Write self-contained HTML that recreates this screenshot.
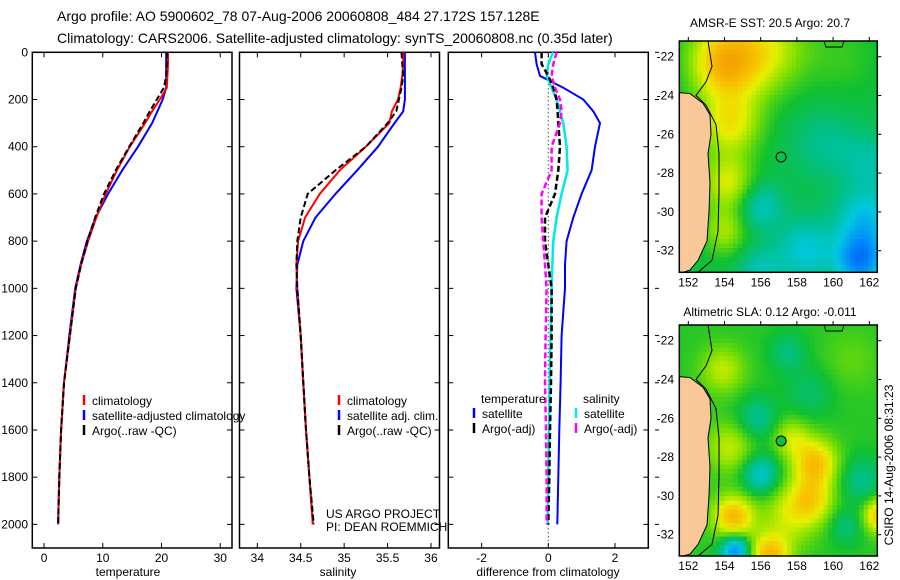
<!DOCTYPE html>
<html><head><meta charset="utf-8"><style>
body{margin:0;background:#fff;}
svg{display:block;font-family:"Liberation Sans",sans-serif;}
</style></head><body>
<svg id="s" width="900" height="580" viewBox="0 0 900 580">
<text x="57" y="21" font-size="14">Argo profile: AO 5900602_78 07-Aug-2006 20060808_484 27.172S 157.128E</text>
<text x="57" y="43" font-size="14">Climatology: CARS2006. Satellite-adjusted climatology: synTS_20060808.nc (0.35d later)</text>
<g id="g"></g>
<text x="770" y="27" font-size="12" text-anchor="middle">AMSR-E SST: 20.5 Argo: 20.7</text>
<text x="770" y="316" font-size="12" text-anchor="middle">Altimetric SLA: 0.12 Argo: -0.011</text>
<text transform="translate(893,465) rotate(-90)" font-size="12" text-anchor="middle">CSIRO 14-Aug-2006 08:31:23</text>
<text x="326" y="518" font-size="12">US ARGO PROJECT</text>
<text x="326" y="531" font-size="12">PI: DEAN ROEMMICH</text>
</svg>
<script>
const depths=[0,50,100,150,200,250,300,400,500,600,700,800,900,1000,1200,1400,1600,1800,2000];
const tempClim=[21.1,21.1,21.0,20.9,19.7,18.4,17.2,14.6,12.4,10.5,8.9,7.5,6.3,5.4,4.4,3.4,2.9,2.6,2.4];
const tempSat=[20.8,20.8,20.8,20.8,20.2,19.3,18.4,16.0,13.3,10.9,8.8,7.3,6.2,5.3,4.3,3.4,2.9,2.6,2.4];
const tempArgo=[20.9,20.9,20.8,20.4,19.2,18.0,16.9,14.5,12.2,10.2,8.7,7.4,6.3,5.4,4.4,3.4,2.9,2.6,2.4];
const salClim=[35.68,35.68,35.67,35.65,35.62,35.55,35.52,35.25,34.95,34.72,34.55,34.47,34.45,34.46,34.5,34.53,34.56,34.6,34.64];
const salSat=[35.70,35.70,35.70,35.70,35.70,35.68,35.58,35.39,35.15,34.90,34.67,34.53,34.46,34.45,34.5,34.53,34.56,34.6,34.64];
const salArgo=[35.66,35.67,35.68,35.66,35.63,35.6,35.5,35.25,34.9,34.58,34.5,34.46,34.45,34.46,34.5,34.53,34.56,34.6,34.65];
const diffTempSat=[-0.4,-0.35,-0.25,0.45,1.05,1.35,1.55,1.4,1.3,1.0,0.75,0.55,0.5,0.5,0.4,0.37,0.33,0.3,0.27];
const diffSalSat=[0.14,0.0,-0.05,0.1,0.25,0.35,0.45,0.55,0.58,0.4,0.25,0.15,0.12,0.1,0.07,0.04,0.02,0.0,-0.02];
const diffTempArgo=[-0.2,-0.2,0,0.15,0.25,0.28,0.3,0.35,0.3,0.2,-0.1,-0.1,0,0.1,0.1,0.08,0.05,0.03,0];
const diffSalArgo=[0.25,0.15,0.1,0.2,0.35,0.4,0.35,0.1,0.1,-0.2,-0.2,-0.15,-0.1,-0.05,-0.08,-0.1,-0.07,-0.05,-0.05];
const depthTicks=[0,200,400,600,800,1000,1200,1400,1600,1800,2000];
const tempTicks=[0,10,20,30];
const salTicks=[34,34.5,35,35.5,36];
const diffTicks=[-2,0,2];
const lonTicks=[152,154,156,158,160,162];
const latTicks=[-22,-24,-26,-28,-30,-32];

const NS='http://www.w3.org/2000/svg';
const G=document.getElementById('g');
function mk(t,a,p){const e=document.createElementNS(NS,t);for(const k in a)e.setAttribute(k,a[k]);(p||G).appendChild(e);return e;}
const PT=52.3,PB=548;
const yD=d=>PT+d*(PB-PT)/2100;
function panel(name,x0,x1,dmin,dmax,ticks,label,lblX,yLabels){
  const xs=v=>x0+(v-dmin)*(x1-x0)/(dmax-dmin);
  const r=mk('rect',{x:x0,y:PT,width:x1-x0,height:PB-PT,fill:'none',stroke:'#000','stroke-width':1.5});
  
  
  ticks.forEach(t=>{const X=xs(t);
    mk('line',{x1:X,x2:X,y1:PT,y2:PT+5,stroke:'#000'});mk('line',{x1:X,x2:X,y1:PB,y2:PB-5,stroke:'#000'});
    const tx=mk('text',{x:X,y:562,'font-size':12,'text-anchor':'middle'});tx.textContent=t;
    
    });
  depthTicks.forEach(d=>{const Y=yD(d);
    mk('line',{x1:x0,x2:x0+5,y1:Y,y2:Y,stroke:'#000'});mk('line',{x1:x1,x2:x1-5,y1:Y,y2:Y,stroke:'#000'});
    if(yLabels){const tx=mk('text',{x:28,y:Y+4,'font-size':12,'text-anchor':'end'});tx.textContent=d;
      
      }});
  const lb=mk('text',{x:lblX,y:576,'font-size':12,'text-anchor':'middle'});lb.textContent=label;
  
  
  return xs;
}
function line(xs,vals,color,dash,nm,w){
  const pts=vals.map((v,i)=>xs(v).toFixed(1)+','+yD(depths[i]).toFixed(1)).join(' ');
  const a={points:pts,fill:'none',stroke:color,'stroke-width':w||2};if(dash)a['stroke-dasharray']=dash;
  const e=mk('polyline',a);
  
  
}
function legend(x,y,color,txt,nm){
  mk('line',{x1:x,x2:x,y1:y-10,y2:y,stroke:color,'stroke-width':2.5});
  const t=mk('text',{x:x+8,y:y,'font-size':12});t.textContent=txt;
  
  
}
let xs=panel('temperature-panel',32.3,232,-2,32,tempTicks,'temperature',128,true);
line(xs,tempSat,'#0000ff',null,'temp-satellite-line');
line(xs,tempClim,'#ff0000',null,'temp-climatology-line');
line(xs,tempArgo,'#000',"6,3",'temp-argo-line');
legend(84,405,'#ff0000','climatology','legend-climatology');
legend(84,420,'#0000ff','satellite-adjusted climatology','legend-satellite');
legend(84,435,'#000','Argo(..raw -QC)','legend-argo');
const salMin=34-(257.3-239.5)/86.7,salMax=36+(439.5-431)/86.7;
xs=panel('salinity-panel',239.5,439.5,salMin,salMax,salTicks,'salinity',338,false);
line(xs,salSat,'#0000ff',null,'sal-satellite-line');
line(xs,salClim,'#ff0000',null,'sal-climatology-line');
line(xs,salArgo,'#000',"6,3",'sal-argo-line');
legend(339,405,'#ff0000','climatology','legend-sal-climatology');
legend(339,420,'#0000ff','satellite adj. clim.','legend-sal-satellite');
legend(339,435,'#000','Argo(..raw -QC)','legend-sal-argo');
xs=panel('difference-panel',448.3,648.3,-3,3,diffTicks,'difference from climatology',548,false);
depthTicks.forEach(d=>mk('line',{x1:655,x2:659,y1:yD(d),y2:yD(d),stroke:'#000'}));
mk('line',{x1:xs(0),x2:xs(0),y1:PT,y2:PB,stroke:'#000','stroke-dasharray':'1,3'});
line(xs,diffTempSat,'#0000ff',null,'diff-temp-satellite-line');
line(xs,diffSalSat,'#00e8e8',null,'diff-sal-satellite-line',2.5);
line(xs,diffTempArgo,'#000',"6,3",'diff-temp-argo-line',2.5);
line(xs,diffSalArgo,'#ff00ff',"6,3",'diff-sal-argo-line',2.5);
let t=mk('text',{x:481,y:403,'font-size':12});t.textContent='temperature';


t=mk('text',{x:583,y:403,'font-size':12});t.textContent='salinity';


legend(474,418,'#0000ff','satellite','legend-diff-temp-satellite');
legend(474,433,'#000','Argo(-adj)','legend-diff-temp-argo');
legend(576,418,'#00e8e8','satellite','legend-diff-sal-satellite');
legend(576,433,'#ff00ff','Argo(-adj)','legend-diff-sal-argo');

const stops=[[0,[0,48,192]],[0.2,[0,128,255]],[0.35,[0,200,224]],[0.45,[0,192,144]],[0.55,[16,192,48]],[0.65,[128,224,0]],[0.75,[232,240,0]],[0.85,[248,192,0]],[1,[240,144,0]]];
function cmap(v){v=Math.max(0,Math.min(1,v));for(let i=1;i<stops.length;i++){if(v<=stops[i][0]){const a=stops[i-1],b=stops[i],f=(v-a[0])/(b[0]-a[0]);return 'rgb('+a[1].map((c,k)=>Math.round(c+(b[1][k]-c)*f)).join(',')+')';}}}
const sstBlobs=[[154.6,-22,0.3,2.3],[153.8,-22.5,0.12,1.5],[154.3,-25.5,0.22,1.6],[154.2,-28.5,0.2,1.4],[154.0,-31,0.15,1.2],[157,-21.5,0.1,2],[160.5,-22,0.05,2],[156,-29.7,-0.14,1.2],[158.5,-32,-0.17,1.6],[159.5,-26.5,-0.08,1.8],[162,-27.5,-0.1,1.6],[161.8,-30.5,-0.2,1.6],[161.5,-32.5,-0.32,1.3],[156,-33,-0.12,1.2]];
const slaBlobs=[[155.8,-26,-0.13,1.1],[156,-28.9,-0.2,1.0],[157.5,-22.6,-0.1,1.0],[158.7,-24.7,-0.08,1.3],[161.6,-29.2,-0.12,1.2],[160.7,-31.6,-0.1,0.9],[154.6,-32.8,-0.35,0.8],[159,-28.3,0.28,1.2],[158.8,-30.2,0.2,1.2],[154.5,-31.1,0.3,1.1],[162.6,-31,0.28,0.9],[156.5,-33.1,0.3,1.1],[157.6,-31,0.14,1.5],[157.7,-27,0.14,1.0],[154.3,-27.5,0.14,1.3],[153.9,-23.5,0.14,1.2],[161,-23,0.05,1.5]];
function field(blobs,base,lon,lat){let v=base;blobs.forEach(b=>{const d=((lon-b[0])**2+(lat-b[1])**2)/(b[3]*b[3]);v+=b[2]*Math.exp(-d);});return v;}
function map(name,y0,y1,blobs,base,lat22y,dotFill){
  const x0=679.3,x1=877.3,lx=lon=>688.3+(lon-152)*18.1,ly=lat=>lat22y+(-22-lat)*19.4;
  const inv=(X)=>152+(X-688.3)/18.1,invy=Y=>-22-(Y-lat22y)/19.4;
  const cs=4.5;
  for(let X=x0;X<x1;X+=cs)for(let Y=y0;Y<y1;Y+=cs){
    mk('rect',{x:X,y:Y,width:Math.min(cs,x1-X)+0.3,height:Math.min(cs,y1-Y)+0.3,fill:cmap(field(blobs,base,inv(X+cs/2),invy(Y+cs/2)))});
  }
  const L=lat=>ly(lat);
  const land=[[x0,L(-23.85)],[690,L(-23.9)],[703,L(-24.4)],[710,L(-25)],[711,L(-26)],[708,L(-27)],[710,L(-28.5)],[709,L(-30)],[707,L(-31.5)],[698,L(-32.5)],[690,L(-33)],[683,y1],[x0,y1]];
  const p=mk('polygon',{points:land.map(q=>q.join(',')).join(' '),fill:'#f8c898',stroke:'#000','stroke-width':1});
  
  
  const cont=[[708,y0],[712,L(-22.5)],[706,L(-23.3)],[696,L(-24)],[706,L(-24.5)],[716,L(-25.5)],[719,L(-27)],[719,L(-29)],[718,L(-31)],[712,L(-32.5)],[698,y1]];
  mk('polyline',{points:cont.map(q=>q.join(',')).join(' '),fill:'none',stroke:'#000','stroke-width':1});
  mk('polyline',{points:`${lx(159.5)},${y0} ${lx(159.6)},${L(-21.5)} ${lx(160.5)},${L(-21.5)} ${lx(160.6)},${y0}`,fill:'none',stroke:'#000'});
  const pos=mk('circle',{cx:lx(157.13),cy:ly(-27.17),r:5,fill:dotFill,stroke:'#000','stroke-width':1});
  
  
  const fr=mk('rect',{x:x0,y:y0,width:x1-x0,height:y1-y0,fill:'none',stroke:'#000','stroke-width':1.5});
  
  
  lonTicks.forEach(l=>{const X=lx(l);mk('line',{x1:X,x2:X,y1:y0-4,y2:y0,stroke:'#000'});
    const tx=mk('text',{x:X,y:y1+14,'font-size':12,'text-anchor':'middle'});tx.textContent=l;
    
    });
  latTicks.forEach(l=>{const Y=ly(l);mk('line',{x1:x1,x2:x1+4,y1:Y,y2:Y,stroke:'#000'});
    const tx=mk('text',{x:674,y:Y+4,'font-size':12,'text-anchor':'end'});tx.textContent=l;
    
    });
}
map('sst-map',41,272.3,sstBlobs,0.53,56.7,'none');
map('sla-map',325,556,slaBlobs,0.57,340.7,'#10c030');
</script>
</body></html>
